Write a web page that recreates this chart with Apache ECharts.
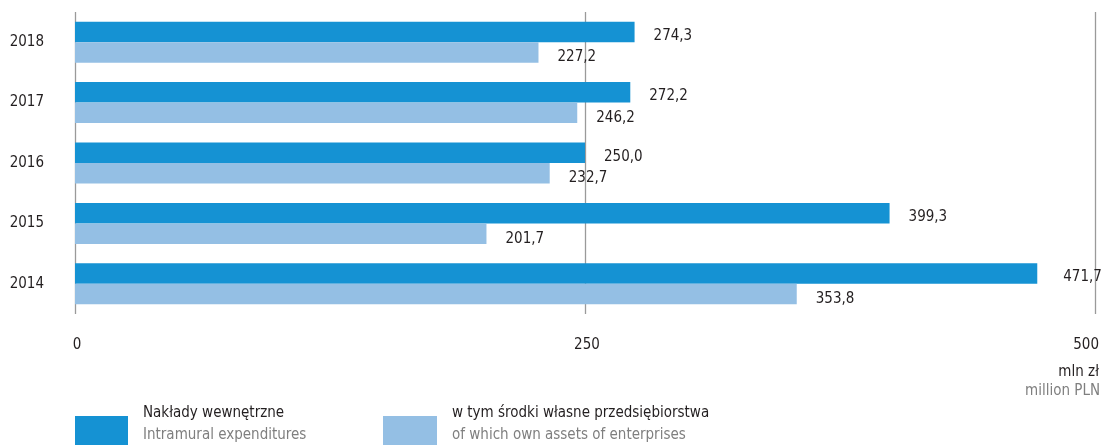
<!DOCTYPE html>
<html>
<head>
<meta charset="utf-8">
<script src="https://cdn.jsdelivr.net/npm/echarts@6/dist/echarts.min.js"></script>
<style>
  html, body { margin: 0; padding: 0; background: #ffffff; }
  #chart { width: 1105px; height: 445px; }
</style>
</head>
<body>
<div id="chart"></div>
<script>
// Years on the category axis (bottom to top)
const years = ['2014', '2015', '2016', '2017', '2018'];
// Intramural expenditures, mln zł
const intramural = [471.7, 399.3, 250.0, 272.2, 274.3];
// of which own assets of enterprises, mln zł
const ownAssets = [353.8, 201.7, 232.7, 246.2, 227.2];
// Value axis ticks
const axisTicks = [0, 250, 500];

const FONT = "'Liberation Sans Narrow', 'DejaVu Sans Condensed', sans-serif";
const DARK = '#1592d3';
const LIGHT = '#94bfe4';
const TEXT = '#231f20';
const GREY = '#7f7f7f';

const fmt = v => v.toFixed(1).replace('.', ',');

function barData(values) {
  return values.map(v => ({
    value: v,
    label: { distance: v > 450 ? 26 : 19 }
  }));
}

const chart = echarts.init(document.getElementById('chart'), null, { renderer: 'canvas' });

chart.setOption({
  animation: false,
  backgroundColor: '#ffffff',
  grid: { left: 75, right: 10, top: 12, height: 302, containLabel: false },
  xAxis: {
    type: 'value',
    min: axisTicks[0],
    max: axisTicks[axisTicks.length - 1],
    interval: axisTicks[1] - axisTicks[0],
    axisLine: { show: false },
    axisTick: { show: false },
    splitLine: { show: true, lineStyle: { color: '#9a9a9a', width: 1.3 } },
    axisLabel: {
      color: TEXT, fontFamily: FONT, fontSize: 15, margin: 24,
      alignMaxLabel: 'right', padding: [0, -4, 0, 0]
    }
  },
  yAxis: {
    type: 'category',
    data: years,
    axisLine: { show: false },
    axisTick: { show: false },
    axisLabel: { color: TEXT, fontFamily: FONT, fontSize: 15, margin: 31, padding: [0, 0, 10, 0] }
  },
  series: [
    {
      name: 'Nakłady wewnętrzne',
      type: 'bar',
      data: barData(intramural),
      barWidth: 20.5,
      barGap: '0%',
      itemStyle: { color: DARK },
      label: {
        show: true, position: 'right', offset: [0, 4],
        color: TEXT, fontFamily: FONT, fontSize: 15,
        formatter: p => fmt(p.value)
      }
    },
    {
      name: 'w tym środki własne przedsiębiorstwa',
      type: 'bar',
      data: barData(ownAssets),
      barWidth: 20.5,
      barGap: '0%',
      itemStyle: { color: LIGHT },
      label: {
        show: true, position: 'right', offset: [0, 5],
        color: TEXT, fontFamily: FONT, fontSize: 15,
        formatter: p => fmt(p.value)
      }
    }
  ],
  graphic: [
    // unit caption under the value axis
    { type: 'text', right: 6, top: 365, style: { text: 'mln zł', fill: TEXT, font: "15px " + FONT, textAlign: 'right' } },
    { type: 'text', right: 5, top: 384, style: { text: 'million PLN', fill: GREY, font: "15px " + FONT, textAlign: 'right' } },
    // legend
    { type: 'rect', shape: { x: 75, y: 416, width: 53, height: 32 }, style: { fill: DARK } },
    { type: 'text', left: 143, top: 406, style: { text: 'Nakłady wewnętrzne', fill: TEXT, font: "15px " + FONT } },
    { type: 'text', left: 143, top: 428, style: { text: 'Intramural expenditures', fill: GREY, font: "15px " + FONT } },
    { type: 'rect', shape: { x: 383, y: 416, width: 54, height: 32 }, style: { fill: LIGHT } },
    { type: 'text', left: 452, top: 406, style: { text: 'w tym środki własne przedsiębiorstwa', fill: TEXT, font: "15px " + FONT } },
    { type: 'text', left: 452, top: 428, style: { text: 'of which own assets of enterprises', fill: GREY, font: "15px " + FONT } }
  ]
});
</script>
</body>
</html>
